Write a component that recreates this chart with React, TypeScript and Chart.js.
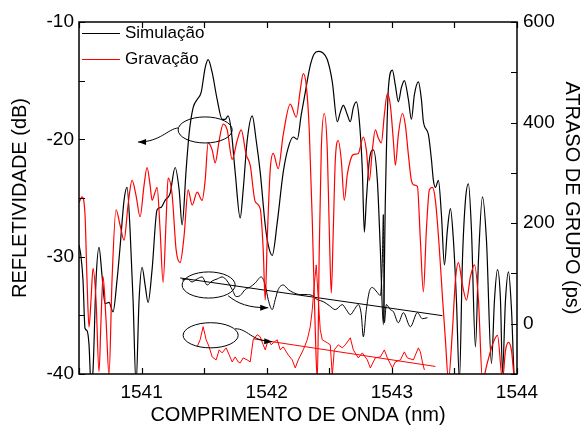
import React, { useEffect, useRef } from 'react';
import { Chart, registerables } from 'chart.js';

Chart.register(...registerables);

const FONT = '"Liberation Sans", Arial, Helvetica, sans-serif';

// Reflectivity – simulation (black)
const simWavelength = [1540.500,1540.516,1540.532,1540.548,1540.564,1540.580,1540.596,1540.612,1540.636,1540.660,1540.684,1540.708,1540.740,1540.772,1540.804,1540.828,1540.860,1540.884,1540.908,1540.932,1540.956,1540.980,1541.004,1541.028,1541.052,1541.084,1541.124,1541.156,1541.188,1541.228,1541.268,1541.300,1541.324,1541.356,1541.380,1541.412,1541.444,1541.476,1541.508,1541.532,1541.564,1541.604,1541.644,1541.668,1541.692,1541.716,1541.748,1541.788,1541.812,1541.844,1541.884,1541.916,1541.948,1541.988,1542.012,1542.044,1542.084,1542.132,1542.172,1542.212,1542.244,1542.276,1542.308,1542.348,1542.380,1542.412,1542.444,1542.484,1542.524,1542.564,1542.588,1542.612,1542.644,1542.668,1542.692,1542.716,1542.740,1542.764,1542.780,1542.796,1542.820,1542.852,1542.884,1542.908,1542.932,1542.948,1542.972,1543.004,1543.028,1543.052,1543.076,1543.100,1543.132,1543.156,1543.180,1543.212,1543.236,1543.252,1543.292,1543.316,1543.332,1543.348,1543.372,1543.396,1543.420,1543.444,1543.468,1543.492,1543.516,1543.540,1543.564,1543.588,1543.612,1543.636,1543.668,1543.692,1543.724,1543.756,1543.796,1543.820,1543.844,1543.868,1543.884,1543.908,1543.932,1543.956,1543.980,1544.000];
const simReflect = [-29.0,-30.0,-32.0,-36.1,-36.3,-37.5,-40.9,-39.7,-32.0,-29.2,-31.6,-34.0,-33.9,-34.7,-32.0,-29.2,-25.2,-24.1,-27.7,-33.7,-40.9,-33.7,-30.9,-32.4,-33.9,-31.1,-26.0,-25.8,-25.2,-24.6,-22.4,-24.3,-27.3,-22.6,-19.5,-17.3,-16.6,-16.0,-13.9,-13.2,-14.3,-16.6,-18.3,-18.3,-18.0,-19.2,-22.8,-26.7,-24.3,-20.1,-18.0,-20.1,-22.8,-27.3,-29.0,-29.9,-27.1,-22.8,-20.7,-19.8,-20.0,-17.9,-16.0,-13.7,-12.7,-12.5,-12.6,-13.2,-15.1,-18.5,-17.7,-17.1,-17.9,-18.5,-17.3,-16.8,-18.4,-22.6,-27.9,-25.2,-21.8,-20.9,-23.5,-29.4,-35.8,-25.2,-15.7,-14.1,-15.4,-16.8,-15.6,-15.0,-16.6,-18.3,-16.2,-15.1,-16.6,-18.5,-19.6,-21.7,-23.5,-24.1,-23.5,-26.4,-30.7,-27.7,-25.9,-28.6,-33.7,-40.5,-30.3,-25.2,-23.8,-27.7,-37.7,-30.3,-24.9,-28.6,-39.1,-33.7,-31.1,-33.7,-39.9,-33.7,-31.3,-34.5,-40.5,-40.9];

// Reflectivity – recording (red)
const gravWavelength = [1540.500,1540.524,1540.548,1540.564,1540.580,1540.596,1540.612,1540.636,1540.660,1540.676,1540.692,1540.716,1540.740,1540.764,1540.796,1540.828,1540.860,1540.892,1540.924,1540.956,1540.988,1541.020,1541.044,1541.068,1541.084,1541.108,1541.124,1541.148,1541.172,1541.196,1541.212,1541.244,1541.276,1541.308,1541.340,1541.372,1541.404,1541.444,1541.484,1541.508,1541.532,1541.564,1541.588,1541.620,1541.652,1541.684,1541.724,1541.764,1541.796,1541.836,1541.868,1541.908,1541.948,1541.972,1541.988,1542.004,1542.028,1542.052,1542.092,1542.132,1542.188,1542.236,1542.268,1542.292,1542.316,1542.340,1542.364,1542.388,1542.404,1542.420,1542.436,1542.460,1542.484,1542.500,1542.516,1542.532,1542.548,1542.572,1542.596,1542.620,1542.644,1542.668,1542.692,1542.732,1542.772,1542.796,1542.820,1542.844,1542.868,1542.892,1542.916,1542.940,1542.964,1542.988,1543.012,1543.028,1543.052,1543.084,1543.108,1543.132,1543.156,1543.180,1543.204,1543.228,1543.252,1543.276,1543.300,1543.324,1543.348,1543.380,1543.404,1543.428,1543.452,1543.484,1543.508,1543.532,1543.564,1543.596,1543.628,1543.660,1543.692,1543.724,1543.764,1543.804,1543.844,1543.884,1543.908,1543.932,1543.956,1543.980,1544.000];
const gravReflect = [-25.4,-24.9,-26.4,-32.0,-36.0,-33.7,-31.0,-33.7,-39.8,-35.4,-31.7,-35.4,-40.1,-32.0,-26.0,-27.3,-28.6,-25.6,-23.5,-24.8,-26.6,-23.9,-22.4,-23.9,-25.2,-24.5,-24.1,-27.7,-32.2,-26.9,-23.3,-24.7,-29.4,-30.5,-28.2,-24.3,-25.6,-24.5,-25.2,-23.5,-20.3,-20.9,-22.0,-20.1,-18.7,-19.2,-21.7,-20.1,-19.2,-21.3,-22.2,-25.3,-25.9,-29.4,-33.7,-28.6,-22.6,-21.2,-22.5,-19.6,-17.0,-18.1,-15.8,-14.4,-15.4,-19.2,-26.9,-36.3,-40.5,-29.4,-20.9,-17.8,-20.9,-27.7,-33.1,-27.7,-21.8,-20.1,-21.8,-25.2,-23.0,-21.8,-21.3,-21.2,-19.8,-20.9,-23.5,-20.9,-19.2,-19.9,-20.3,-17.9,-16.1,-17.1,-20.1,-22.2,-19.6,-17.8,-18.8,-21.3,-23.5,-23.9,-24.0,-28.6,-33.0,-27.7,-24.3,-24.1,-25.2,-29.4,-33.4,-37.1,-40.5,-36.3,-32.0,-30.5,-32.4,-33.7,-31.7,-30.7,-33.7,-40.5,-39.0,-37.5,-36.7,-40.5,-38.0,-37.3,-38.0,-40.5,-40.9];

// Group delay – simulation (black), ps
const simDelayWavelength = [1541.324,1541.364,1541.404,1541.444,1541.484,1541.524,1541.564,1541.604,1541.644,1541.684,1541.724,1541.756,1541.788,1541.828,1541.868,1541.908,1541.956,1541.988,1542.012,1542.044,1542.068,1542.092,1542.132,1542.172,1542.212,1542.268,1542.324,1542.364,1542.404,1542.452,1542.500,1542.548,1542.604,1542.636,1542.668,1542.700,1542.732,1542.756,1542.772,1542.796,1542.820,1542.844,1542.884,1542.908,1542.924,1542.932,1542.940,1542.956,1542.988,1543.012,1543.052,1543.092,1543.148,1543.204,1543.244,1543.284];
const simDelay = [87,89,83,89,93,77,85,89,93,85,68,54,56,68,73,81,93,77,48,28,48,68,77,68,62,58,58,56,48,44,36,28,38,28,18,28,38,18,-26,28,64,72,62,56,127,217,2,38,28,24,2,22,-6,22,10,12];

// Group delay – recording (red), ps
const gravDelayWavelength = [1541.444,1541.468,1541.492,1541.516,1541.540,1541.564,1541.596,1541.620,1541.644,1541.676,1541.700,1541.724,1541.748,1541.772,1541.788,1541.812,1541.844,1541.868,1541.892,1541.924,1541.948,1541.972,1541.988,1542.012,1542.036,1542.052,1542.084,1542.108,1542.132,1542.172,1542.204,1542.228,1542.252,1542.292,1542.324,1542.348,1542.364,1542.380,1542.396,1542.412,1542.428,1542.444,1542.484,1542.508,1542.524,1542.540,1542.572,1542.604,1542.628,1542.668,1542.692,1542.732,1542.764,1542.804,1542.828,1542.868,1542.908,1542.940,1542.964,1543.004,1543.028,1543.068,1543.100,1543.124,1543.172,1543.212,1543.228,1543.244,1543.260];
const gravDelay = [-46,-32,-6,-32,-46,-66,-72,-52,-58,-48,-62,-76,-66,-76,-78,-68,-72,-76,-32,-22,-26,-42,-52,-32,-42,-38,-32,-52,-46,-62,-72,-88,-72,-52,-32,-6,28,77,117,48,-12,-32,-38,-42,-103,-52,-42,-48,-42,-28,-52,-68,-58,-72,-88,-68,-66,-52,-68,-88,-76,-72,-56,-68,-72,-48,-56,-76,-92];

// Linear fits of the group delay
const simFitWavelength = [1541.308, 1543.404];
const simFit = [91, 16];
const gravFitWavelength = [1541.892, 1543.348];
const gravFit = [-30, -85];

const seriesNames = ['Simulação', 'Gravação'];
const seriesColors = ['#000000', '#ff0000'];

const xMin = 1540.5, xMax = 1544;
const yMin = -40, yMax = -10;
const y2Min = -100, y2Max = 600;

// Annotation ellipses (data units) and curved arrows (cubic bezier in data units)
const ellipseCx = [1541.508, 1541.536, 1541.552];
const ellipseCy = [-19.2, 77, -23];
const ellipseRx = [0.216, 0.212, 0.22];
const ellipseRy = [1.11, 26, 25];
const ellipseAxis = ['y', 'y2', 'y2'];
const arrowAxis = ['y', 'y2', 'y2'];
const arrowPts = [
  [[1541.292, -19.03], [1541.212, -19.1], [1541.148, -20.23], [1540.972, -20.23]],
  [[1541.692, 55.6], [1541.772, 39.7], [1541.852, 31.7], [1542.012, 31.7]],
  [[1541.748, -10.0], [1541.852, -10.0], [1541.868, -33.9], [1542.044, -35.8]],
];

const zip = (xs: number[], ys: number[]) => {
  const n = Math.min(xs.length, ys.length);
  const out: { x: number; y: number }[] = [];
  for (let i = 0; i < n; i++) out.push({ x: xs[i], y: ys[i] });
  return out;
};

const decorPlugin = {
  id: 'decor',
  afterDatasetsDraw(chart: any) {
    const { ctx, chartArea: a, scales } = chart;
    const sx = scales.x, sy = scales.y, sy2 = scales.y2;
    ctx.save();
    ctx.strokeStyle = '#000';
    ctx.fillStyle = '#000';
    // inward tick marks
    const T = 6;
    ctx.lineWidth = 1.2;
    ctx.beginPath();
    sx.ticks.forEach((t: any) => {
      const p = Math.round(sx.getPixelForValue(t.value)) + 0.5;
      ctx.moveTo(p, a.bottom); ctx.lineTo(p, a.bottom - T);
      ctx.moveTo(p, a.top); ctx.lineTo(p, a.top + T);
    });
    sy.ticks.forEach((t: any) => {
      const p = Math.round(sy.getPixelForValue(t.value)) + 0.5;
      ctx.moveTo(a.left, p); ctx.lineTo(a.left + T, p);
    });
    sy2.ticks.forEach((t: any) => {
      const p = Math.round(sy2.getPixelForValue(t.value)) + 0.5;
      ctx.moveTo(a.right, p); ctx.lineTo(a.right - T, p);
    });
    ctx.stroke();
    // frame
    ctx.lineWidth = 1.5;
    ctx.strokeRect(a.left, a.top, a.right - a.left, a.bottom - a.top);

    // ellipses
    ctx.lineWidth = 1;
    for (let i = 0; i < ellipseCx.length; i++) {
      const ys = scales[ellipseAxis[i]];
      const cx = sx.getPixelForValue(ellipseCx[i]);
      const cy = ys.getPixelForValue(ellipseCy[i]);
      const rx = Math.abs(sx.getPixelForValue(ellipseCx[i] + ellipseRx[i]) - cx);
      const ry = Math.abs(ys.getPixelForValue(ellipseCy[i] + ellipseRy[i]) - cy);
      ctx.beginPath();
      ctx.ellipse(cx, cy, rx, ry, 0, 0, Math.PI * 2);
      ctx.stroke();
    }
    // arrows
    for (let i = 0; i < arrowPts.length; i++) {
      const ys = scales[arrowAxis[i]];
      const p = arrowPts[i].map(([vx, vy]) => [sx.getPixelForValue(vx), ys.getPixelForValue(vy)]);
      ctx.beginPath();
      ctx.moveTo(p[0][0], p[0][1]);
      ctx.bezierCurveTo(p[1][0], p[1][1], p[2][0], p[2][1], p[3][0], p[3][1]);
      ctx.stroke();
      const ang = Math.atan2(p[3][1] - p[2][1], p[3][0] - p[2][0]);
      const L = 8, W = 3;
      const tx = p[3][0], ty = p[3][1];
      ctx.beginPath();
      ctx.moveTo(tx, ty);
      ctx.lineTo(tx - L * Math.cos(ang) + W * Math.sin(ang), ty - L * Math.sin(ang) - W * Math.cos(ang));
      ctx.lineTo(tx - L * Math.cos(ang) - W * Math.sin(ang), ty - L * Math.sin(ang) + W * Math.cos(ang));
      ctx.closePath();
      ctx.fill();
    }

    // legend inside plot area
    ctx.font = `17px ${FONT}`;
    ctx.textBaseline = 'middle';
    ctx.textAlign = 'left';
    seriesNames.forEach((name, i) => {
      const yy = a.top + 11.5 + i * 26;
      ctx.strokeStyle = seriesColors[i];
      ctx.lineWidth = 1.2;
      ctx.beginPath();
      ctx.moveTo(a.left + 3, yy);
      ctx.lineTo(a.left + 41, yy);
      ctx.stroke();
      ctx.fillStyle = '#000';
      ctx.fillText(name, a.left + 46, yy);
    });
    ctx.restore();
  },
};

const tickFont = { family: FONT, size: 19 };
const titleFont = { family: FONT, size: 20 };

export default function App() {
  const ref = useRef<HTMLCanvasElement>(null);
  useEffect(() => {
    if (!ref.current) return;
    const chart = new Chart(ref.current, {
      type: 'line',
      data: {
        datasets: [
          {
            label: seriesNames[1],
            data: zip(gravWavelength, gravReflect),
            borderColor: seriesColors[1],
            borderWidth: 1.2,
            pointRadius: 0,
            cubicInterpolationMode: 'monotone',
            yAxisID: 'y',
          },
          {
            label: seriesNames[0],
            data: zip(simWavelength, simReflect),
            borderColor: seriesColors[0],
            borderWidth: 1.2,
            pointRadius: 0,
            cubicInterpolationMode: 'monotone',
            yAxisID: 'y',
          },
          {
            label: 'atraso simulação',
            data: zip(simDelayWavelength, simDelay),
            borderColor: '#000',
            borderWidth: 1,
            pointRadius: 0,
            cubicInterpolationMode: 'monotone',
            yAxisID: 'y2',
          },
          {
            label: 'atraso gravação',
            data: zip(gravDelayWavelength, gravDelay),
            borderColor: '#ff0000',
            borderWidth: 1,
            pointRadius: 0,
            tension: 0,
            yAxisID: 'y2',
          },
          {
            label: 'ajuste simulação',
            data: zip(simFitWavelength, simFit),
            borderColor: '#000',
            borderWidth: 1,
            pointRadius: 0,
            yAxisID: 'y2',
          },
          {
            label: 'ajuste gravação',
            data: zip(gravFitWavelength, gravFit),
            borderColor: '#ff0000',
            borderWidth: 1,
            pointRadius: 0,
            yAxisID: 'y2',
          },
        ],
      } as any,
      options: {
        responsive: false,
        animation: false,
        devicePixelRatio: 1,
        layout: { padding: { top: 22, left: 0, right: 0, bottom: 0 } },
        plugins: { legend: { display: false }, tooltip: { enabled: false } },
        scales: {
          x: {
            type: 'linear',
            position: 'bottom',
            min: xMin,
            max: xMax,
            afterFit: (s: any) => { s.height = 62; },
            grid: { display: false, drawTicks: false },
            border: { display: false },
            ticks: {
              stepSize: 0.5,
              autoSkip: false,
              maxRotation: 0,
              padding: 7,
              color: '#000',
              font: tickFont,
              callback: (v: any) => (Math.abs(v - Math.round(v)) < 1e-6 ? String(Math.round(v)) : ''),
            },
            title: { display: true, text: 'COMPRIMENTO DE ONDA (nm)', color: '#000', font: titleFont, padding: { top: 0, bottom: 9 } },
          },
          y: {
            type: 'linear',
            position: 'left',
            min: yMin,
            max: yMax,
            afterFit: (s: any) => { s.width = 79; },
            grid: { display: false, drawTicks: false },
            border: { display: false },
            ticks: {
              stepSize: 5,
              autoSkip: false,
              padding: 5,
              color: '#000',
              font: tickFont,
              callback: (v: any) => (Math.round(v) % 10 === 0 ? String(Math.round(v)) : ''),
            },
            title: { display: true, text: 'REFLETIVIDADE (dB)', color: '#000', font: titleFont, padding: { top: 8, bottom: 0 } },
          },
          y2: {
            type: 'linear',
            position: 'right',
            min: y2Min,
            max: y2Max,
            afterFit: (s: any) => { s.width = 67; },
            grid: { display: false, drawTicks: false },
            border: { display: false },
            ticks: {
              stepSize: 100,
              autoSkip: false,
              padding: 6,
              color: '#000',
              font: tickFont,
              callback: (v: any) => (Math.round(v) >= 0 && Math.round(v) % 200 === 0 ? String(Math.round(v)) : ''),
            },
            title: { display: true, text: 'ATRASO DE GRUPO (ps)', color: '#000', font: titleFont, padding: { top: 0, bottom: 0 } },
          },
        },
      } as any,
      plugins: [decorPlugin],
    });
    return () => chart.destroy();
  }, []);
  return (
    <div style={{ position: 'absolute', left: 0, top: 0, width: 584, height: 436, background: '#fff' }}>
      <canvas ref={ref} width={584} height={436} style={{ display: 'block' }} />
    </div>
  );
}
